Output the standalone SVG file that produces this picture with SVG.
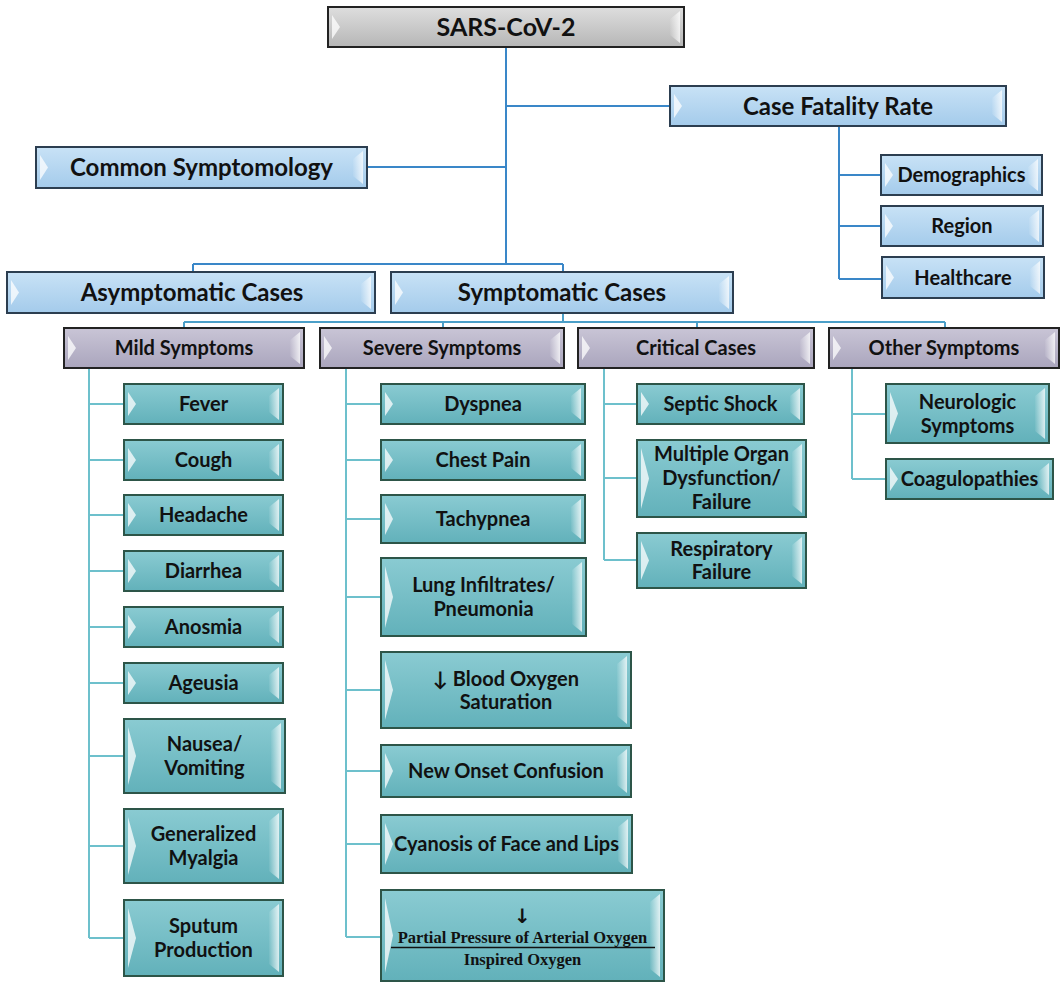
<svg xmlns="http://www.w3.org/2000/svg" width="1060" height="982" viewBox="0 0 1060 982">
<defs>
<linearGradient id="gGray" x1="0" y1="0" x2="0" y2="1"><stop offset="0" stop-color="#dedede"/><stop offset="1" stop-color="#b6b6b6"/></linearGradient>
<linearGradient id="gBlue" x1="0" y1="0" x2="0" y2="1"><stop offset="0" stop-color="#c8e2f6"/><stop offset="1" stop-color="#a4cbeb"/></linearGradient>
<linearGradient id="gPurple" x1="0" y1="0" x2="0" y2="1"><stop offset="0" stop-color="#c9c5d6"/><stop offset="1" stop-color="#aaa5bd"/></linearGradient>
<linearGradient id="gTeal" x1="0" y1="0" x2="0" y2="1"><stop offset="0" stop-color="#8acbd2"/><stop offset="1" stop-color="#62b1ba"/></linearGradient>
<linearGradient id="gRight" x1="0" y1="0" x2="1" y2="0"><stop offset="0" stop-color="#fff" stop-opacity="0.05"/><stop offset="1" stop-color="#fff" stop-opacity="0.75"/></linearGradient>
<style>
.gray{fill:url(#gGray);stroke:#222;stroke-width:2}
.blue{fill:url(#gBlue);stroke:#2c3e50;stroke-width:2}
.purple{fill:url(#gPurple);stroke:#222;stroke-width:2}
.teal{fill:url(#gTeal);stroke:#2d5548;stroke-width:2}
.bl{fill:#fff;fill-opacity:0.75}
.br{fill:url(#gRight)}
text{font-family:Lato,"Liberation Sans",sans-serif;font-weight:bold;fill:#111;text-anchor:middle}
.f24{font-size:25px}.f22{font-size:24px}.f18{font-size:20px}
.serif{font-family:"Liberation Serif","DejaVu Serif",serif;font-size:16.5px}
.arrow{font-family:"DejaVu Sans",sans-serif;font-size:20px}
.c1{fill:none;stroke:#3a87c8;stroke-width:2}
.c2{fill:none;stroke:#4b9fc8;stroke-width:2}
.c3{fill:none;stroke:#6dc0cc;stroke-width:2}
</style>
</defs>
<g id="connectors">
<path class="c1" d="M506,47V264M506,106H670M367,167H506M193,264H563M193,264V272M563,264V272M839,126V279M839,175H881M839,226H881M839,279H882"/>
<path class="c2" d="M563,313V322M184,322H945M184,322V328M443,322V328M697,322V328M945,322V328"/>
<path class="c3" d="M89,368V938M89,404H124M89,460H124M89,515H124M89,571H124M89,627H124M89,683H124M89,756H124M89,846H124M89,938H124"/>
<path class="c3" d="M346,368V937M346,404H381M346,460H381M346,519H381M346,597H381M346,690H381M346,771H381M346,844H381M346,937H381"/>
<path class="c3" d="M604,368V560M604,404H637M604,478H637M604,560H637"/>
<path class="c3" d="M852,368V479M852,414H886M852,479H886"/>
</g>
<g id="sars"><rect class="gray" x="328" y="7" width="356" height="40"/><path class="bl" d="M332,15L340,27L332,39Z"/><path class="br" d="M680,11L670,19V35L680,43Z"/><text class="f24" x="506" y="36">SARS-CoV-2</text></g>
<g id="cfr"><rect class="blue" x="670" y="86" width="336" height="40"/><path class="bl" d="M674,94L682,106L674,118Z"/><path class="br" d="M1002,90L992,98V114L1002,122Z"/><text class="f22" x="838" y="114.5">Case Fatality Rate</text></g>
<g id="common"><rect class="blue" x="36" y="147" width="331" height="41"/><path class="bl" d="M40,155L48,167.5L40,180Z"/><path class="br" d="M363,151L353,159V176L363,184Z"/><text class="f22" x="201.5" y="176">Common Symptomology</text></g>
<g id="demographics"><rect class="blue" x="881" y="155" width="161" height="40"/><path class="bl" d="M885,163L893,175L885,187Z"/><path class="br" d="M1038,159L1028,167V183L1038,191Z"/><text class="f18" x="961.5" y="182">Demographics</text></g>
<g id="region"><rect class="blue" x="881" y="206" width="162" height="40"/><path class="bl" d="M885,214L893,226L885,238Z"/><path class="br" d="M1039,210L1029,218V234L1039,242Z"/><text class="f18" x="962" y="233">Region</text></g>
<g id="healthcare"><rect class="blue" x="882" y="257" width="162" height="41"/><path class="bl" d="M886,265L894,277.5L886,290Z"/><path class="br" d="M1040,261L1030,269V286L1040,294Z"/><text class="f18" x="963" y="285">Healthcare</text></g>
<g id="asymptomatic"><rect class="blue" x="7" y="272" width="368" height="41"/><path class="bl" d="M11,280L19,292.5L11,305Z"/><path class="br" d="M371,276L361,284V301L371,309Z"/><text class="f22" x="192" y="301">Asymptomatic Cases</text></g>
<g id="symptomatic"><rect class="blue" x="391" y="272" width="342" height="41"/><path class="bl" d="M395,280L403,292.5L395,305Z"/><path class="br" d="M729,276L719,284V301L729,309Z"/><text class="f22" x="562" y="301">Symptomatic Cases</text></g>
<g id="mild"><rect class="purple" x="64" y="328" width="240" height="40"/><path class="bl" d="M68,336L76,348L68,360Z"/><path class="br" d="M300,332L290,340V356L300,364Z"/><text class="f18" x="184" y="355">Mild Symptoms</text></g>
<g id="severe"><rect class="purple" x="320" y="328" width="244" height="40"/><path class="bl" d="M324,336L332,348L324,360Z"/><path class="br" d="M560,332L550,340V356L560,364Z"/><text class="f18" x="442" y="355">Severe Symptoms</text></g>
<g id="critical"><rect class="purple" x="578" y="328" width="236" height="40"/><path class="bl" d="M582,336L590,348L582,360Z"/><path class="br" d="M810,332L800,340V356L810,364Z"/><text class="f18" x="696" y="355">Critical Cases</text></g>
<g id="other"><rect class="purple" x="829" y="328" width="230" height="40"/><path class="bl" d="M833,336L841,348L833,360Z"/><path class="br" d="M1055,332L1045,340V356L1055,364Z"/><text class="f18" x="944" y="355">Other Symptoms</text></g>
<g id="fever"><rect class="teal" x="124" y="384" width="159" height="40"/><path class="bl" d="M128,392L136,404L128,416Z"/><path class="br" d="M279,388L269,396V412L279,420Z"/><text class="f18" x="203.5" y="411">Fever</text></g>
<g id="cough"><rect class="teal" x="124" y="440" width="159" height="40"/><path class="bl" d="M128,448L136,460L128,472Z"/><path class="br" d="M279,444L269,452V468L279,476Z"/><text class="f18" x="203.5" y="467">Cough</text></g>
<g id="headache"><rect class="teal" x="124" y="495" width="159" height="40"/><path class="bl" d="M128,503L136,515L128,527Z"/><path class="br" d="M279,499L269,507V523L279,531Z"/><text class="f18" x="203.5" y="522">Headache</text></g>
<g id="diarrhea"><rect class="teal" x="124" y="551" width="159" height="40"/><path class="bl" d="M128,559L136,571L128,583Z"/><path class="br" d="M279,555L269,563V579L279,587Z"/><text class="f18" x="203.5" y="578">Diarrhea</text></g>
<g id="anosmia"><rect class="teal" x="124" y="607" width="159" height="40"/><path class="bl" d="M128,615L136,627L128,639Z"/><path class="br" d="M279,611L269,619V635L279,643Z"/><text class="f18" x="203.5" y="634">Anosmia</text></g>
<g id="ageusia"><rect class="teal" x="124" y="663" width="159" height="40"/><path class="bl" d="M128,671L136,683L128,695Z"/><path class="br" d="M279,667L269,675V691L279,699Z"/><text class="f18" x="203.5" y="690">Ageusia</text></g>
<g id="nausea"><rect class="teal" x="124" y="719" width="161" height="74"/><path class="bl" d="M128,727L136,756L128,785Z"/><path class="br" d="M281,723L271,731V781L281,789Z"/><text class="f18" x="204.5" y="751">Nausea/</text><text class="f18" x="204.5" y="775">Vomiting</text></g>
<g id="myalgia"><rect class="teal" x="124" y="809" width="159" height="74"/><path class="bl" d="M128,817L136,846L128,875Z"/><path class="br" d="M279,813L269,821V871L279,879Z"/><text class="f18" x="203.5" y="841">Generalized</text><text class="f18" x="203.5" y="865">Myalgia</text></g>
<g id="sputum"><rect class="teal" x="124" y="900" width="159" height="76"/><path class="bl" d="M128,908L136,938L128,968Z"/><path class="br" d="M279,904L269,912V964L279,972Z"/><text class="f18" x="203.5" y="933">Sputum</text><text class="f18" x="203.5" y="957">Production</text></g>
<g id="dyspnea"><rect class="teal" x="381" y="384" width="204" height="40"/><path class="bl" d="M385,392L393,404L385,416Z"/><path class="br" d="M581,388L571,396V412L581,420Z"/><text class="f18" x="483" y="411">Dyspnea</text></g>
<g id="chestpain"><rect class="teal" x="381" y="440" width="204" height="40"/><path class="bl" d="M385,448L393,460L385,472Z"/><path class="br" d="M581,444L571,452V468L581,476Z"/><text class="f18" x="483" y="467">Chest Pain</text></g>
<g id="tachypnea"><rect class="teal" x="381" y="495" width="204" height="48"/><path class="bl" d="M385,503L393,519L385,535Z"/><path class="br" d="M581,499L571,507V531L581,539Z"/><text class="f18" x="483" y="526">Tachypnea</text></g>
<g id="lung"><rect class="teal" x="381" y="558" width="205" height="78"/><path class="bl" d="M385,566L393,597L385,628Z"/><path class="br" d="M582,562L572,570V624L582,632Z"/><text class="f18" x="483.5" y="592">Lung Infiltrates/</text><text class="f18" x="483.5" y="616">Pneumonia</text></g>
<g id="bloodoxygen"><rect class="teal" x="381" y="652" width="250" height="76"/><path class="bl" d="M385,660L393,690L385,720Z"/><path class="br" d="M627,656L617,664V716L627,724Z"/><text class="f18" x="506" y="686">↓ Blood Oxygen</text><text class="f18" x="506" y="709">Saturation</text></g>
<g id="confusion"><rect class="teal" x="381" y="745" width="250" height="52"/><path class="bl" d="M385,753L393,771L385,789Z"/><path class="br" d="M627,749L617,757V785L627,793Z"/><text class="f18" x="506" y="778">New Onset Confusion</text></g>
<g id="cyanosis"><rect class="teal" x="381" y="815" width="251" height="58"/><path class="bl" d="M385,823L393,844L385,865Z"/><path class="br" d="M628,819L618,827V861L628,869Z"/><text class="f18" x="506.5" y="851">Cyanosis of Face and Lips</text></g>
<g id="partialpressure"><rect class="teal" x="381" y="890" width="283" height="91"/><path class="bl" d="M385,898L393,935.5L385,973Z"/><path class="br" d="M660,894L650,902V969L660,977Z"/><text class="arrow" x="522.5" y="923">↓</text><text class="serif" x="522.5" y="943">Partial Pressure of Arterial Oxygen</text><path d="M391,947.5H655" stroke="#111" stroke-width="1.3"/><text class="serif" x="522.5" y="965">Inspired Oxygen</text></g>
<g id="septic"><rect class="teal" x="637" y="384" width="167" height="40"/><path class="bl" d="M641,392L649,404L641,416Z"/><path class="br" d="M800,388L790,396V412L800,420Z"/><text class="f18" x="720.5" y="411">Septic Shock</text></g>
<g id="multiorgan"><rect class="teal" x="637" y="440" width="169" height="77"/><path class="bl" d="M641,448L649,478.5L641,509Z"/><path class="br" d="M802,444L792,452V505L802,513Z"/><text class="f18" x="721.5" y="461">Multiple Organ</text><text class="f18" x="721.5" y="485">Dysfunction/</text><text class="f18" x="721.5" y="509">Failure</text></g>
<g id="respiratory"><rect class="teal" x="637" y="533" width="169" height="55"/><path class="bl" d="M641,541L649,560.5L641,580Z"/><path class="br" d="M802,537L792,545V576L802,584Z"/><text class="f18" x="721.5" y="556">Respiratory</text><text class="f18" x="721.5" y="579">Failure</text></g>
<g id="neurologic"><rect class="teal" x="886" y="384" width="163" height="59"/><path class="bl" d="M890,392L898,413.5L890,435Z"/><path class="br" d="M1045,388L1035,396V431L1045,439Z"/><text class="f18" x="967.5" y="409">Neurologic</text><text class="f18" x="967.5" y="433">Symptoms</text></g>
<g id="coagulopathies"><rect class="teal" x="886" y="459" width="167" height="40"/><path class="bl" d="M890,467L898,479L890,491Z"/><path class="br" d="M1049,463L1039,471V487L1049,495Z"/><text class="f18" x="969.5" y="486">Coagulopathies</text></g>
</svg>
